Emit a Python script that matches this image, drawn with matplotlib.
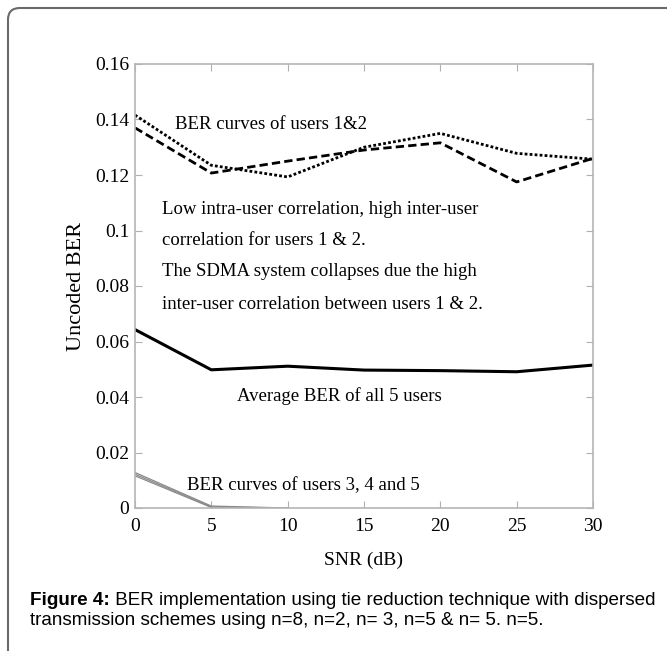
import numpy as np
import matplotlib
matplotlib.use('Agg')
import matplotlib.pyplot as plt
from matplotlib.patches import FancyBboxPatch

# SNR points (dB)
snr = [0, 5, 10, 15, 20, 25, 30]
snr_low = [0, 5, 10]

# users 1 & 2 (high inter-user correlation)
ber_user1 = [0.1416, 0.1235, 0.1193, 0.1300, 0.1350, 0.1278, 0.1257]
ber_user2 = [0.1370, 0.1207, 0.1250, 0.1290, 0.1316, 0.1175, 0.1260]
# average of all 5 users
ber_avg = [0.0643, 0.0498, 0.0511, 0.0497, 0.0495, 0.0491, 0.0515]
# users 3, 4, 5
ber_user3 = [0.0128, 0.0007, 0.0]
ber_user4 = [0.0122, 0.0004, 0.0]
ber_user5 = [0.0116, 0.0002, 0.0]

x_ticks = [0, 5, 10, 15, 20, 25, 30]
y_ticks = [0, 0.02, 0.04, 0.06, 0.08, 0.1, 0.12, 0.14, 0.16]
y_labels = ['0', '0.02', '0.04', '0.06', '0.08', '0.1', '0.12', '0.14', '0.16']

plt.rcParams['font.family'] = ['Liberation Serif', 'DejaVu Serif']
plt.rcParams['font.size'] = 13.5

fig = plt.figure(figsize=(6.67, 6.51), dpi=100)
ax = fig.add_axes([135 / 667, 1 - 508 / 651, 458 / 667, 444 / 651])

ax.plot(snr, ber_user1, color='black', lw=2, linestyle=(0, (1, 0.8)))
ax.plot(snr, ber_user2, color='black', lw=2, linestyle=(0, (3, 1.5)))
ax.plot(snr, ber_avg, color='black', lw=2.2)
for b in (ber_user3, ber_user4, ber_user5):
    ax.plot(snr_low, b, color='#8a8a8a', lw=0.9)

ax.set_xlim(0, 30)
ax.set_ylim(0, 0.16)
ax.set_xticks(x_ticks)
ax.set_xticklabels([str(t) for t in x_ticks])
ax.set_yticks(y_ticks)
ax.set_yticklabels(y_labels)
ax.tick_params(direction='in', top=True, right=True, length=5, width=0.8,
               color='#b0b0b0', labelsize=14)
ax.tick_params(axis='x', pad=7)
ax.tick_params(axis='y', pad=4)
for s in ax.spines.values():
    s.set_color('#b5b5b5')
    s.set_linewidth(1.2)

ax.set_xlabel('SNR (dB)', fontsize=14, va='center')
ax.xaxis.set_label_coords(0.5, -0.117)
ax.set_ylabel('Uncoded BER', fontsize=16, va='center')
ax.yaxis.set_label_coords(-0.128, 0.5)

ax.text(2.62, 0.1383, 'BER curves of users 1&2', va='center')
ax.text(1.77, 0.1075, 'Low intra-user correlation, high inter-user', va='center')
ax.text(1.77, 0.0963, 'correlation for users 1 & 2.', va='center')
ax.text(1.77, 0.0851, 'The SDMA system collapses due the high', va='center')
ax.text(1.77, 0.0735, 'inter-user correlation between users 1 & 2.', va='center')
ax.text(6.68, 0.0405, 'Average BER of all 5 users', va='center')
ax.text(3.4, 0.0080, 'BER curves of users 3, 4 and 5', va='center')

# caption
cap_font = ['Liberation Sans', 'DejaVu Sans']
head = fig.text(30 / 667, 1 - 605 / 651, 'Figure 4:', family=cap_font,
                fontsize=13.6, weight='bold', va='baseline')
ax.annotate(' BER implementation using tie reduction technique with dispersed',
            xy=(1, 0), xycoords=head, va='bottom', ha='left',
            family=cap_font, fontsize=13.6, annotation_clip=False)
fig.text(30 / 667, 1 - 625 / 651,
         'transmission schemes using n=8, n=2, n= 3, n=5 & n= 5. n=5.',
         family=cap_font, fontsize=13.6, va='baseline')

# page frame
frame = FancyBboxPatch((8 / 667, -0.2), 1.2, 1.2 - 8 / 651,
                       boxstyle='round,pad=0,rounding_size=0.018',
                       transform=fig.transFigure, fill=False,
                       edgecolor='#6a6a6a', lw=1.5, clip_on=False)
fig.patches.append(frame)

fig.savefig('out.png', dpi=100)
